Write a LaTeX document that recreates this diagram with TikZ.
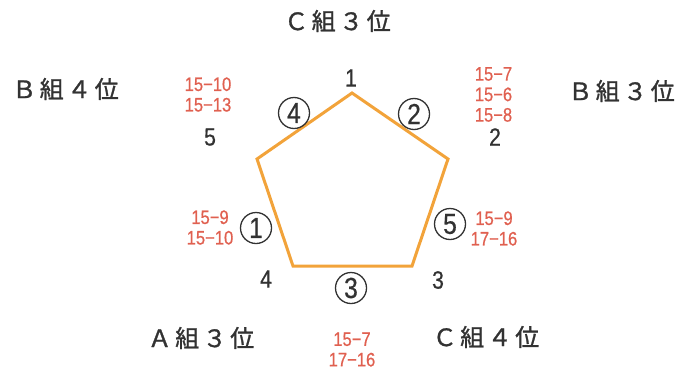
\documentclass[tikz,border=0pt]{standalone}
\usepackage{fontspec}
\setmainfont{Liberation Sans}
\newfontfamily\cjk[FakeBold=1.2]{Noto Sans CJK JP}
\newfontfamily\narrowf[FakeStretch=0.85,FakeBold=0.6]{Liberation Sans}
\newfontfamily\numf[FakeStretch=0.85,FakeBold=0.5]{Liberation Sans}
\definecolor{edgeorange}{RGB}{242,163,58}
\definecolor{scorered}{RGB}{224,96,80}
\definecolor{ink}{RGB}{50,50,50}
\newcommand\jc[1]{\makebox[27.5pt]{#1}}
\tikzset{
  grp/.style={inner sep=0pt, text=ink, font=\cjk\fontsize{24}{26}\selectfont},
  score/.style={inner sep=0pt, align=center, text=scorered, font=\narrowf\fontsize{19.5}{20.5}\selectfont},
  vnum/.style={inner sep=0pt, text=ink, font=\numf\fontsize{25}{26}\selectfont},
  cnum/.style={circle, draw=ink, line width=1.3pt, minimum size=31pt, inner sep=0pt, text=ink, font=\numf\fontsize{29}{30}\selectfont},
  edge/.style={draw=edgeorange, line width=3pt, line join=miter}
}
\begin{document}
\begin{tikzpicture}[x=1pt,y=-1pt]
\useasboundingbox (0,0) rectangle (676,372);
% pentagon
\coordinate (p1) at (352,93);
\coordinate (p2) at (448,159);
\coordinate (p3) at (412,266);
\coordinate (p4) at (293,266);
\coordinate (p5) at (257,159);
\draw[edge] (p1) -- (p2) -- (p3) -- (p4) -- (p5) -- cycle;
% group labels
\node[grp] (cg3) at (337.5,21) {\jc{Ｃ}\jc{組}\jc{３}\jc{位}};
\node[grp] (bg4) at (65.5,89) {\jc{Ｂ}\jc{組}\jc{４}\jc{位}};
\node[grp] (bg3) at (621.5,91) {\jc{Ｂ}\jc{組}\jc{３}\jc{位}};
\node[grp] (ag3) at (201,338) {\jc{Ａ}\jc{組}\jc{３}\jc{位}};
\node[grp] (cg4) at (486,337) {\jc{Ｃ}\jc{組}\jc{４}\jc{位}};
% vertex numbers
\node[vnum] (n1) at (351,78) {1};
\node[vnum] (n2) at (495,137) {2};
\node[vnum] (n3) at (438,280) {3};
\node[vnum] (n4) at (266,279) {4};
\node[vnum] (n5) at (210,137) {5};
% circled match numbers
\node[cnum] (m1) at (256,228) {1};
\node[cnum] (m2) at (414,114) {2};
\node[cnum] (m3) at (351,288) {3};
\node[cnum] (m4) at (294,113) {4};
\node[cnum] (m5) at (450,224) {5};
% scores
\node[score] (s5) at (208,94.5) {15−10\\15−13};
\node[score] (s2) at (493.5,94.5) {15−7\\15−6\\15−8};
\node[score] (s1) at (210,227.5) {15−9\\15−10};
\node[score] (s6) at (494,228.5) {15−9\\17−16};
\node[score] (s3) at (352,349.5) {15−7\\17−16};
\end{tikzpicture}
\end{document}
